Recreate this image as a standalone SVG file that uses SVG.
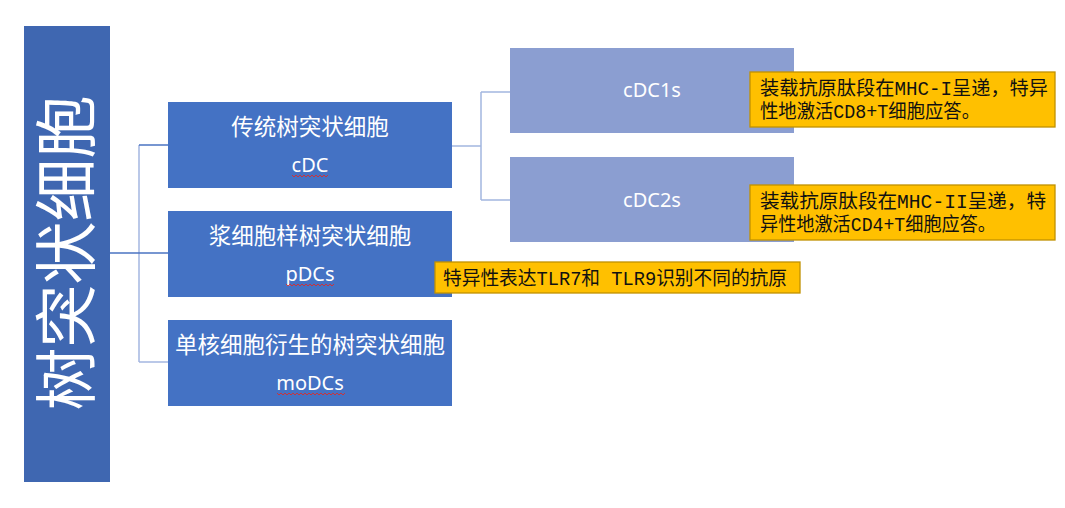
<svg xmlns="http://www.w3.org/2000/svg" width="1065" height="508" viewBox="0 0 1065 508">
<style>
.root{fill:#3F67B1}
.l2{fill:#4472C4}
.l3{fill:#8B9ED1}
.note{fill:#FFC000;stroke:#C09100;stroke-width:1.3}
.wt{fill:#FFFFFF;font-family:"Noto Sans CJK SC","Noto Sans",sans-serif;text-anchor:middle}
.lat{font-family:"Noto Sans","Noto Sans CJK SC",sans-serif;font-size:20px}
.cjk{font-size:22.5px}
.nt{fill:#111111;font-family:"Liberation Mono","Noto Sans CJK SC",monospace;font-size:19.5px}
.con{fill:none;stroke:#A3B6E0;stroke-width:1.5}
.con2{fill:none;stroke:#4A73C2;stroke-width:1.5}
.wave{fill:none;stroke:#D92B2B;stroke-width:0.9}
</style>
<rect width="1065" height="508" fill="#FFFFFF"/>
<g id="connectors">
<path class="con" d="M139 145 V362"/>
<path class="con2" d="M110 253 H139"/>
<path class="con2" d="M139 145 H168"/>
<path class="con2" d="M139 253 H168"/>
<path class="con" d="M139 362 H168"/>
<path class="con" d="M452 146 H481 M481 92 V200 M481 92 H510 M481 200 H510"/>
</g>
<g id="root">
<rect class="root" x="24" y="26" width="86" height="456"/>
<text class="wt" transform="translate(89 253) rotate(-90)" font-size="63">树突状细胞</text>
</g>
<g id="cdc">
<rect class="l2" x="168" y="102" width="284" height="86"/>
<text class="wt cjk" x="310" y="135">传统树突状细胞</text>
<text class="wt lat" x="310" y="172">cDC</text>
<path class="wave" d="M292 175 l2 2 l2 -2 l2 2 l2 -2 l2 2 l2 -2 l2 2 l2 -2 l2 2 l2 -2 l2 2 l2 -2 l2 2 l2 -2 l2 2 l2 -2 l2 2 l2 -2"/>
</g>
<g id="pdcs">
<rect class="l2" x="168" y="211" width="284" height="86"/>
<text class="wt cjk" x="310" y="244">浆细胞样树突状细胞</text>
<text class="wt lat" x="310" y="281">pDCs</text>
<path class="wave" d="M286 284 l2 2 l2 -2 l2 2 l2 -2 l2 2 l2 -2 l2 2 l2 -2 l2 2 l2 -2 l2 2 l2 -2 l2 2 l2 -2 l2 2 l2 -2 l2 2 l2 -2 l2 2 l2 -2 l2 2 l2 -2 l2 2 l2 -2"/>
</g>
<g id="modcs">
<rect class="l2" x="168" y="320" width="284" height="86"/>
<text class="wt cjk" x="310" y="353">单核细胞衍生的树突状细胞</text>
<text class="wt lat" x="310" y="390">moDCs</text>
<path class="wave" d="M277 393 l2 2 l2 -2 l2 2 l2 -2 l2 2 l2 -2 l2 2 l2 -2 l2 2 l2 -2 l2 2 l2 -2 l2 2 l2 -2 l2 2 l2 -2 l2 2 l2 -2 l2 2 l2 -2 l2 2 l2 -2 l2 2 l2 -2 l2 2 l2 -2 l2 2 l2 -2 l2 2 l2 -2 l2 2 l2 -2 l2 2 l2 -2"/>
</g>
<g id="cdc1s">
<rect class="l3" x="510" y="48" width="284" height="85"/>
<text class="wt lat" x="652" y="97">cDC1s</text>
</g>
<g id="cdc2s">
<rect class="l3" x="510" y="157" width="284" height="85"/>
<text class="wt lat" x="652" y="207">cDC2s</text>
</g>
<g id="note-cdc1s">
<rect class="note" x="750" y="72" width="305" height="55"/>
<text class="nt" x="760" y="95" textLength="288" lengthAdjust="spacingAndGlyphs">装载抗原肽段在MHC-I呈递，特异</text>
<text class="nt" x="760" y="118" textLength="220" lengthAdjust="spacingAndGlyphs">性地激活CD8+T细胞应答。</text>
</g>
<g id="note-cdc2s">
<rect class="note" x="750" y="185" width="305" height="55"/>
<text class="nt" x="760" y="208" textLength="286" lengthAdjust="spacingAndGlyphs">装载抗原肽段在MHC-II呈递，特</text>
<text class="nt" x="760" y="231" textLength="236" lengthAdjust="spacingAndGlyphs">异性地激活CD4+T细胞应答。</text>
</g>
<g id="note-pdcs">
<rect class="note" x="435" y="262" width="365" height="31"/>
<text class="nt" x="443" y="285" textLength="344" lengthAdjust="spacingAndGlyphs">特异性表达TLR7和 TLR9识别不同的抗原</text>
</g>
</svg>
